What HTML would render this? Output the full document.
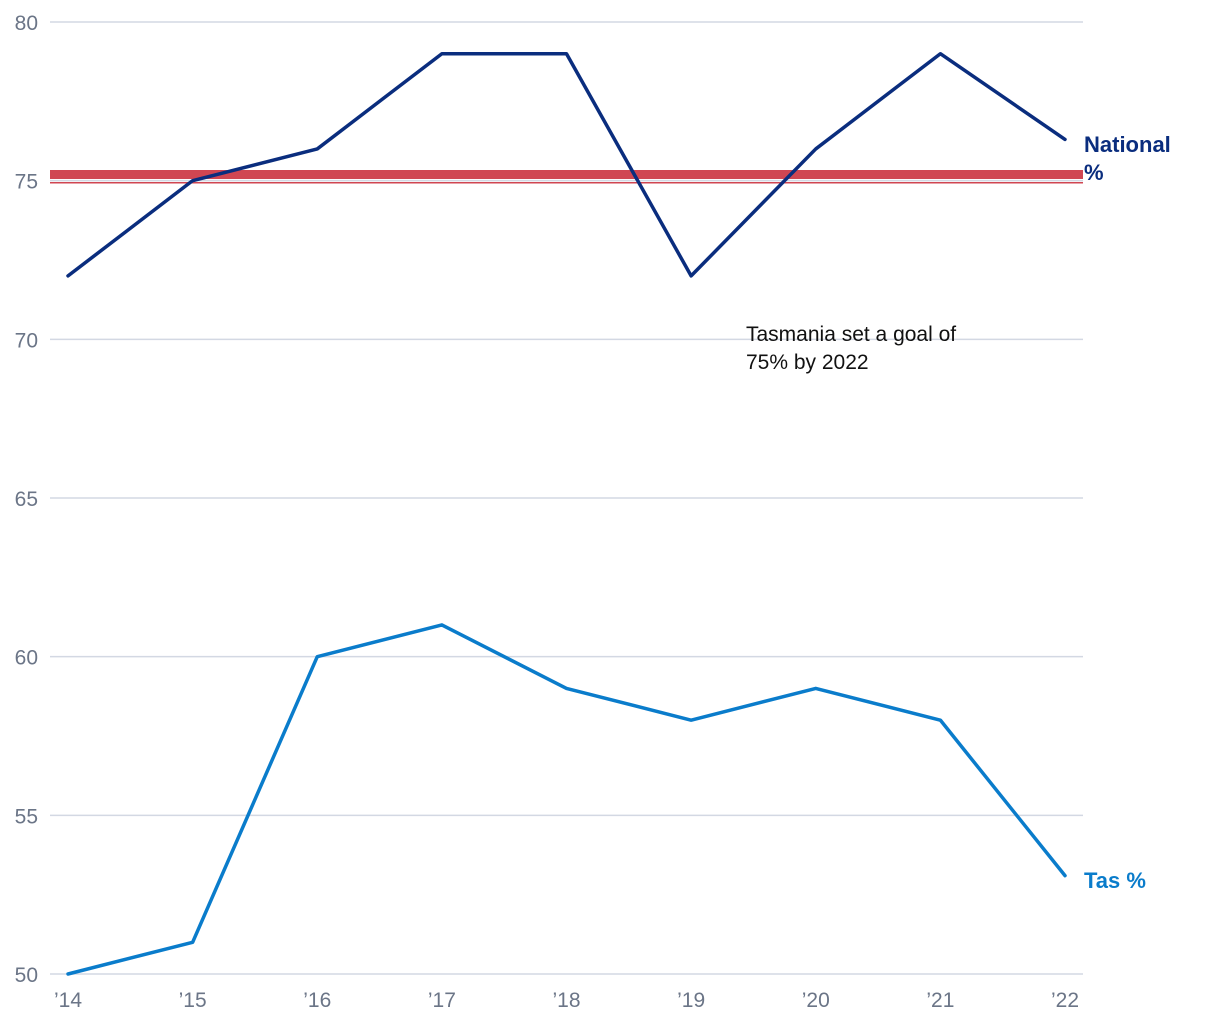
<!DOCTYPE html>
<html><head><meta charset="utf-8"><style>
body{margin:0;background:#fff;font-family:"Liberation Sans","DejaVu Sans",sans-serif;}
svg text{font-family:"Liberation Sans","DejaVu Sans",sans-serif;}
</style></head><body>
<svg id="chart" width="1220" height="1020" xmlns="http://www.w3.org/2000/svg">
<g id="grid"></g>
<g id="yticks"></g>
<g id="xticks"></g>
<rect x="50" y="170" width="1033" height="9" fill="#d04652"/>
<rect x="50" y="182" width="1033" height="1.5" fill="#d04652"/>
<g id="series"></g>
<text x="746" y="341" font-size="21" fill="#111">Tasmania set a goal of</text>
<text x="746" y="369" font-size="21" fill="#111">75% by 2022</text>
<text x="1084" y="152" font-size="22" font-weight="bold" fill="#0a2d7e">National</text>
<text x="1084" y="180" font-size="22" font-weight="bold" fill="#0a2d7e">%</text>
<text x="1084" y="888" font-size="22" font-weight="bold" fill="#0a7ccb">Tas %</text>
</svg>
<script>
const categories=["’14","’15","’16","’17","’18","’19","’20","’21","’22"];
const nationalValues=[72,75,76,79,79,72,76,79,76.3];
const tasValues=[50,51,60,61,59,58,59,58,53.1];
const yTicks=[50,55,60,65,70,75,80];
const NS="http://www.w3.org/2000/svg";
const x=i=>68+i*(1065-68)/(categories.length-1);
const y=v=>974-(v-50)*(974-22)/30;
const grid=document.getElementById('grid'),yt=document.getElementById('yticks'),xt=document.getElementById('xticks'),ser=document.getElementById('series');
yTicks.forEach(t=>{
 const l=document.createElementNS(NS,'line');
 
 
 l.setAttribute('x1',50);l.setAttribute('x2',1083);l.setAttribute('y1',y(t));l.setAttribute('y2',y(t));
 l.setAttribute('stroke','#d3d8e3');l.setAttribute('stroke-width','1.5');grid.appendChild(l);
 const tx=document.createElementNS(NS,'text');
 
 
 tx.setAttribute('x',38);tx.setAttribute('y',y(t)+8);tx.setAttribute('text-anchor','end');
 tx.setAttribute('font-size','21');tx.setAttribute('fill','#6b7587');tx.textContent=t;yt.appendChild(tx);
});
categories.forEach((c,i)=>{
 const tx=document.createElementNS(NS,'text');
 
 
 tx.setAttribute('x',x(i));tx.setAttribute('y',1007);tx.setAttribute('text-anchor','middle');
 tx.setAttribute('font-size','21');tx.setAttribute('fill','#6b7587');tx.textContent=c;xt.appendChild(tx);
});
function line(vals,color,name){
 const p=document.createElementNS(NS,'polyline');
 
 
 p.setAttribute('points',vals.map((v,i)=>x(i)+','+y(v)).join(' '));
 p.setAttribute('fill','none');p.setAttribute('stroke',color);p.setAttribute('stroke-width','3.5');
 p.setAttribute('stroke-linejoin','round');p.setAttribute('stroke-linecap','round');ser.appendChild(p);
}
line(nationalValues,'#0a2d7e','national-line');
line(tasValues,'#0a7ccb','tas-line');
</script>
</body></html>
